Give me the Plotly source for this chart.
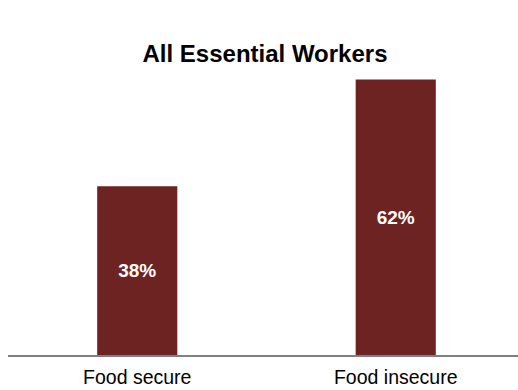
import plotly.graph_objects as go

categories = ["Food secure", "Food insecure"]
values = [38, 62]
labels = ["38%", "62%"]

fig = go.Figure(go.Bar(
    x=categories, y=values, text=labels,
    textposition="inside", insidetextanchor="middle",
    textfont=dict(family="Liberation Sans, Arial", size=19, color="white", weight="bold"),
    marker=dict(color="#6E2323", line=dict(width=0)),
    width=0.31, hoverinfo="skip",
))

fig.update_layout(
    width=518, height=390,
    margin=dict(l=8, r=0, t=44, b=35),
    paper_bgcolor="white", plot_bgcolor="white",
    showlegend=False,
    title=dict(text="<b>All Essential Workers</b>", xref="container", yref="container",
               x=265/518, y=1-54/390, xanchor="center", yanchor="middle",
               font=dict(family="Liberation Sans, Arial", size=24, color="black")),
    xaxis=dict(range=[-0.5, 1.473], showline=True, linecolor="#808080", linewidth=1.5,
               ticks="", showgrid=False, zeroline=False, ticklabelstandoff=4,
               automargin=False,
               tickfont=dict(family="Liberation Sans, Arial", size=19.5, color="black")),
    yaxis=dict(range=[0, 70], visible=False, showgrid=False, zeroline=False, automargin=False),
)

fig.write_html("out.html", config={"displayModeBar": False},
               post_script="document.body.style.margin='0';document.body.style.overflow='hidden';")
